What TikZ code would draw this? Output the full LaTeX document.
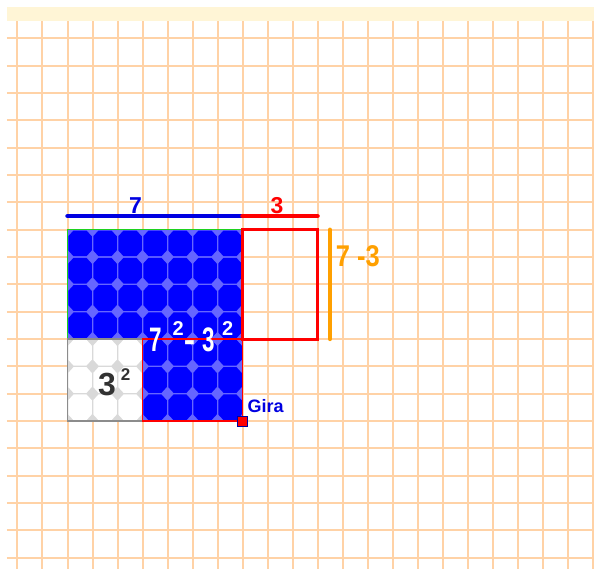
\documentclass[tikz,border=0pt]{standalone}
\usepackage{fontspec}
\setmainfont{Liberation Sans}
\usepackage{graphicx}
\usepackage{tikz}
\definecolor{bannercol}{RGB}{255,245,214}
\definecolor{octblue}{RGB}{0,0,255}
\definecolor{backblue}{RGB}{102,102,255}
\definecolor{backgray}{RGB}{217,217,217}
\definecolor{edgegreen}{RGB}{30,210,30}
\definecolor{edgegray}{RGB}{140,140,140}
\definecolor{linered}{RGB}{255,0,0}
\definecolor{lineblue}{RGB}{0,0,225}
\definecolor{lineorange}{RGB}{255,160,0}
\definecolor{textgray}{RGB}{50,50,50}

\begin{document}
\begin{tikzpicture}[x=25pt,y=27.33pt,
    octa/.pic={\path[pic actions] (.24,.03) -- (.76,.03) -- (.97,.24) -- (.97,.76)
        -- (.76,.97) -- (.24,.97) -- (.03,.76) -- (.03,.24) -- cycle;},
    greenedge/.style={draw=edgegreen,line width=1.5pt},
    grayedge/.style={draw=edgegray,line width=1.5pt},
    thinred/.style={draw=linered,line width=1.5pt},
    thickred/.style={draw=linered,line width=3pt},
    sevenline/.style={draw=lineblue,line width=4.5pt,line cap=round},
    threeline/.style={draw=linered,line width=4.5pt,line cap=round},
    diffline/.style={draw=lineorange,line width=4.3pt,line cap=round},
    lbl/.style={inner sep=0pt,anchor=base west},
    gira/.style={rectangle,fill=linered,draw=lineblue!70!black,line width=.8pt,
        minimum size=10pt,inner sep=0pt}]
\useasboundingbox (-2.7,-5.415) rectangle (21.06,15.404);
\fill[white] (-2.7,-5.415) rectangle (21.06,15.404);
\foreach \k in {-2,...,21} \draw[orange!35!white,line width=2pt] (\k,-5.415) -- (\k,14.636);
\foreach \k in {-5,...,14} \draw[orange!35!white,line width=2pt] (-2.42,\k) -- (21.06,\k);
\fill[bannercol] (-2.42,14.636) rectangle (21.06,15.148);

\coordinate (O) at (0,0);
\coordinate (P) at (3,0);
\coordinate (A) at (7,0);
\coordinate (Q) at (3,3);
\coordinate (R) at (0,3);
\coordinate (S) at (7,3);
\coordinate (T) at (10,3);
\coordinate (B) at (7,7);
\coordinate (C) at (0,7);
\coordinate (U) at (10,7);
\coordinate (m0) at (0,7.5);
\coordinate (m7) at (7,7.5);
\coordinate (m10) at (10,7.5);
\coordinate (h0) at (10.5,3);
\coordinate (h1) at (10.5,7);

\fill[backblue] (R) -- (C) -- (B) -- (A) -- (P) -- (Q) -- cycle;
\fill[backgray] (O) rectangle (Q);
\foreach \i in {0,...,6} \foreach \j in {3,...,6} \pic[fill=octblue] at (\i,\j) {octa};
\foreach \i in {3,...,6} \foreach \j in {0,1,2} \pic[fill=octblue] at (\i,\j) {octa};
\foreach \i in {0,1,2} \foreach \j in {0,1,2} \pic[fill=white] at (\i,\j) {octa};

\draw[greenedge] (R) -- (C) -- (B);
\draw[grayedge] (Q) -- (R) -- (O) -- (P);
\draw[thinred] (P) rectangle (S);
\draw[thickred] (S) rectangle (U);

\draw[sevenline] (m0) -- (m7);
\draw[threeline] (m7) -- (m10);
\draw[diffline] (h0) -- (h1);

\node[lbl,text=lineblue,font=\bfseries\fontsize{23}{23}\selectfont] (seven) at (2.46,7.58) {7};
\node[lbl,text=linered,font=\bfseries\fontsize{23}{23}\selectfont] (three) at (8.12,7.58) {3};
\node[lbl,text=lineorange,font=\bfseries\fontsize{30}{30}\selectfont] (difference) at (10.73,5.646) {\scalebox{.85}[1]{7 -3}};
\node[lbl,text=white,font=\bfseries\fontsize{34}{34}\selectfont] (diffsquares) at (3.26,2.536)
    {\scalebox{.66}[1]{7}\hspace{11pt}\raisebox{16pt}{\fontsize{20}{20}\selectfont 2}-\hspace{7pt}\scalebox{.66}[1]{3}\hspace{7.5pt}\raisebox{16pt}{\fontsize{20}{20}\selectfont 2}};
\node[lbl,text=textgray,font=\bfseries\fontsize{32}{32}\selectfont] (smallsquare) at (1.22,0.915)
    {3\hspace{5pt}\raisebox{15pt}{\fontsize{17}{17}\selectfont 2}};

\node[gira] (corner) at (A) {};
\node[lbl,text=lineblue,font=\bfseries\fontsize{18}{18}\selectfont] (giralabel) at (7.2,0.293) {Gira};
\end{tikzpicture}
\end{document}
